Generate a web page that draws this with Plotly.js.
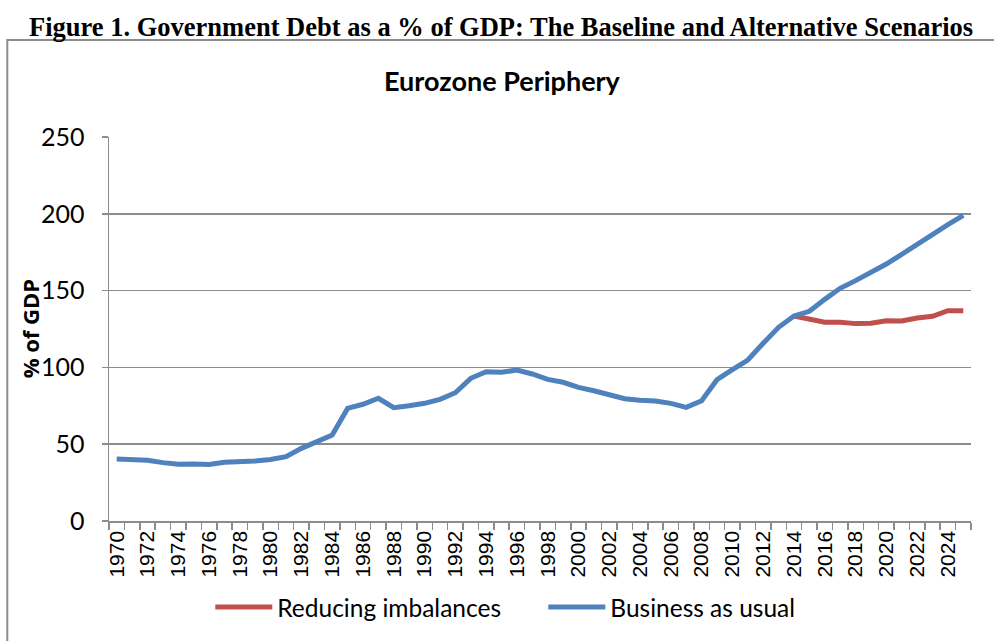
<!DOCTYPE html>
<html>
<head>
<meta charset="utf-8">
<script src="https://cdn.plot.ly/plotly-3.0.1.min.js"></script>
<style>html,body{margin:0;padding:0;background:#fff;}#chart{width:994px;height:641px;}</style>
</head>
<body>
<div id="chart"></div>
<script>
const years = [1970,1971,1972,1973,1974,1975,1976,1977,1978,1979,1980,1981,1982,1983,1984,1985,1986,1987,1988,1989,1990,1991,1992,1993,1994,1995,1996,1997,1998,1999,2000,2001,2002,2003,2004,2005,2006,2007,2008,2009,2010,2011,2012,2013,2014,2015,2016,2017,2018,2019,2020,2021,2022,2023,2024,2025];
const businessAsUsual = [40.4,40,39.5,38,37,37.1,36.8,38.2,38.5,39,40,41.9,47.3,51.6,56,73.3,76,79.9,73.8,75,76.6,79.2,83.5,92.9,97.2,96.8,98.3,95.7,92.2,90.3,87,84.8,81.8,79.6,78.6,78.1,76.6,74,78.3,92,98.5,104.8,115.7,126.1,133.5,136.5,144.3,151.5,156.5,161.7,167.3,173.6,180.3,186.8,192.9,199];
const reducingYears = [2014,2015,2016,2017,2018,2019,2020,2021,2022,2023,2024,2025];
const reducingImbalances = [133.5,131.3,129.4,129.4,128.5,128.7,130.4,130.2,132.2,133.3,136.9,136.9];
const yTicks = [0,50,100,150,200,250];
const xTickYears = years.filter(y => y % 2 === 0);

const traces = [
  {x: reducingYears, y: reducingImbalances, type: 'scatter', mode: 'lines', name: 'Reducing imbalances',
   line: {color: '#C0504D', width: 5}},
  {x: years, y: businessAsUsual, type: 'scatter', mode: 'lines', name: 'Business as usual',
   line: {color: '#4F81BD', width: 5}}
];

const grid = '#8c8c8c';
const layout = {
  width: 994, height: 641,
  margin: {l: 108.7, r: 23.3, t: 137, b: 120},
  paper_bgcolor: '#fff', plot_bgcolor: '#fff',
  showlegend: true,
  font: {family: 'Lato, sans-serif', color: '#000'},
  xaxis: {
    range: [1969.5, 2025.5], tickmode: 'array', tickvals: xTickYears, ticktext: xTickYears.map(String),
    tickangle: -90, tickfont: {family: 'Liberation Sans, Arial', size: 21, color: '#000'},
    ticks: '', showgrid: false, showline: true, linecolor: grid, linewidth: 1.5, zeroline: false,
    minor: {tick0: 1969.5, dtick: 1, ticks: 'outside', ticklen: 7, tickcolor: grid, tickwidth: 1.5, showgrid: false},
    fixedrange: true
  },
  yaxis: {
    range: [0, 250], tickvals: yTicks, ticks: 'outside', ticklen: 6, tickcolor: grid, tickwidth: 1.5,
    showgrid: true, gridcolor: grid, gridwidth: 1.5, showline: true, linecolor: grid, linewidth: 1.5, zeroline: false,
    tickfont: {family: 'Lato, sans-serif', size: 25, color: '#000'}, ticklabelstandoff: 12,
    fixedrange: true
  },
  legend: {orientation: 'h', x: (210 - 108.7) / 862, xanchor: 'left', y: -0.224, yanchor: 'middle',
    itemwidth: 57, entrywidth: 261,
    font: {family: 'Lato, sans-serif', size: 24.5, color: '#000'}, traceorder: 'normal'},
  annotations: [
    {text: '<b>Figure 1. Government Debt as a % of GDP: The Baseline and Alternative Scenarios</b>',
     xref: 'paper', yref: 'paper', x: (501 - 108.7) / 862, y: (521 - 27) / 384, xanchor: 'center', yanchor: 'middle',
     showarrow: false, font: {family: 'Liberation Serif, Times New Roman, serif', size: 26.5, color: '#000'}},
    {text: '<b>Eurozone Periphery</b>',
     xref: 'paper', yref: 'paper', x: (502 - 108.7) / 862, y: (521 - 80) / 384, xanchor: 'center', yanchor: 'middle',
     showarrow: false, font: {family: 'Lato, sans-serif', size: 27, color: '#000'}},
    {text: '<b>% of GDP</b>', textangle: -90,
     xref: 'paper', yref: 'paper', x: (30 - 108.7) / 862, y: 0.5, xanchor: 'center', yanchor: 'middle',
     showarrow: false, font: {family: 'Open Sans, sans-serif', size: 22, color: '#000'}}
  ],
  shapes: [
    {type: 'path', xref: 'paper', yref: 'paper',
     path: 'M ' + ((7 - 108.7) / 862) + ' ' + ((521 - 645) / 384) + ' L ' + ((7 - 108.7) / 862) + ' ' + ((521 - 40) / 384) + ' L ' + ((1000 - 108.7) / 862) + ' ' + ((521 - 40) / 384),
     line: {color: '#8c8c8c', width: 2}}
  ]
};
Plotly.newPlot('chart', traces, layout, {displayModeBar: false, staticPlot: true});
</script>
</body>
</html>
